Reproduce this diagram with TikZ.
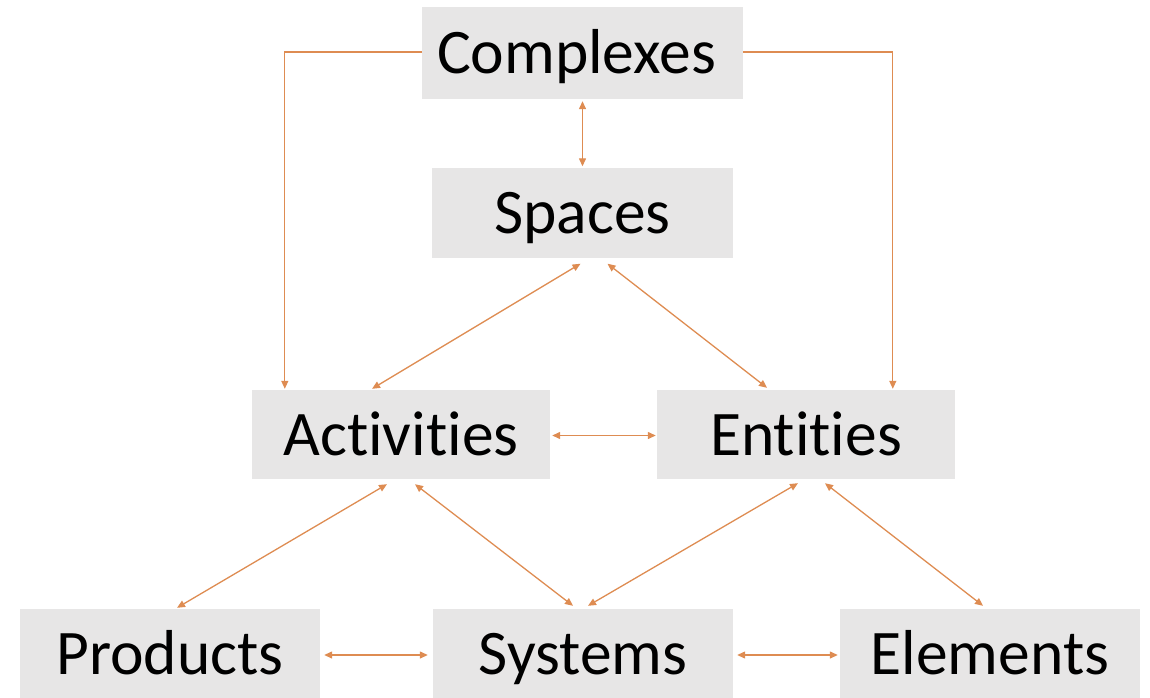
\documentclass[tikz,border=0pt]{standalone}
\usepackage{fontspec}
\setmainfont{Carlito}[Ligatures=NoCommon]
\usetikzlibrary{arrows.meta,calc}
\definecolor{boxgray}{HTML}{E7E6E6}
\definecolor{arrorange}{RGB}{222,140,82}
\begin{document}
\begin{tikzpicture}[x=1pt,y=-1pt,
  box/.style={fill=boxgray,draw=none,inner sep=0pt,anchor=center,
    minimum width=#1,minimum height=90pt,text height=41pt,text depth=0pt,
    font=\fontsize{63.5}{70}\selectfont,text=black},
  box/.default=300pt,
  link/.style={draw=arrorange,line width=1.3pt,
    {Triangle[length=8pt,width=7pt]}-{Triangle[length=8pt,width=7pt]}},
  onelink/.style={draw=arrorange,line width=1.3pt,-{Triangle[length=8pt,width=7pt]}}]
\useasboundingbox (0,0) rectangle (1150,698);
\node[box=321pt,minimum height=92pt] (complexes) at (582.5,53) {\hspace*{-12pt}Complexes};
\node[box=301pt] (spaces) at (582.5,212.5) {Spaces};
\node[box=298pt,minimum height=89pt] (activities) at (401,434.5) {Activities};
\node[box=298pt,minimum height=89pt] (entities) at (806,434.5) {Entities};
\node[box=300pt,minimum height=89pt] (products) at (170,653.5) {Products};
\node[box=300pt,minimum height=89pt] (systems) at (583,653.5) {Systems};
\node[box=300pt,minimum height=89pt] (elements) at (990,653.5) {Elements};
% Complexes - Spaces
\draw[link] ($(complexes.south)+(0,2)$) -- ($(spaces.north)+(0,-1)$);
% Complexes side lines
\draw[onelink] ($(complexes.west)+(0,-1)$) -| ($(activities.north west)+(33,-1)$);
\draw[onelink] ($(complexes.east)+(0,-1)$) -| ($(entities.north west)+(236,-1)$);
% Spaces - Activities / Entities
\draw[link] ($(spaces.south)+(-2,6)$) -- ($(activities.north)+(-29,-1)$);
\draw[link] ($(spaces.south)+(25,6)$) -- ($(entities.north)+(-39,-2)$);
% Activities - Entities
\draw[link] ($(activities.east)+(2,1)$) -- ($(entities.west)+(-1,1)$);
% Activities - Products / Systems
\draw[link] ($(activities.south)+(-14,5)$) -- ($(products.north)+(7,-1)$);
\draw[link] ($(activities.south)+(14,5)$) -- ($(systems.north)+(-10,-3)$);
% Entities - Systems / Elements
\draw[link] ($(entities.south)+(-8,4)$) -- ($(systems.north)+(5,-3)$);
\draw[link] ($(entities.south)+(19,4)$) -- ($(elements.north)+(-7,-3)$);
% Bottom row
\draw[link] ($(products.east)+(4,1.5)$) -- ($(systems.west)+(-5,1.5)$);
\draw[link] ($(systems.east)+(4,1.5)$) -- ($(elements.west)+(-2,1.5)$);
\end{tikzpicture}
\end{document}
